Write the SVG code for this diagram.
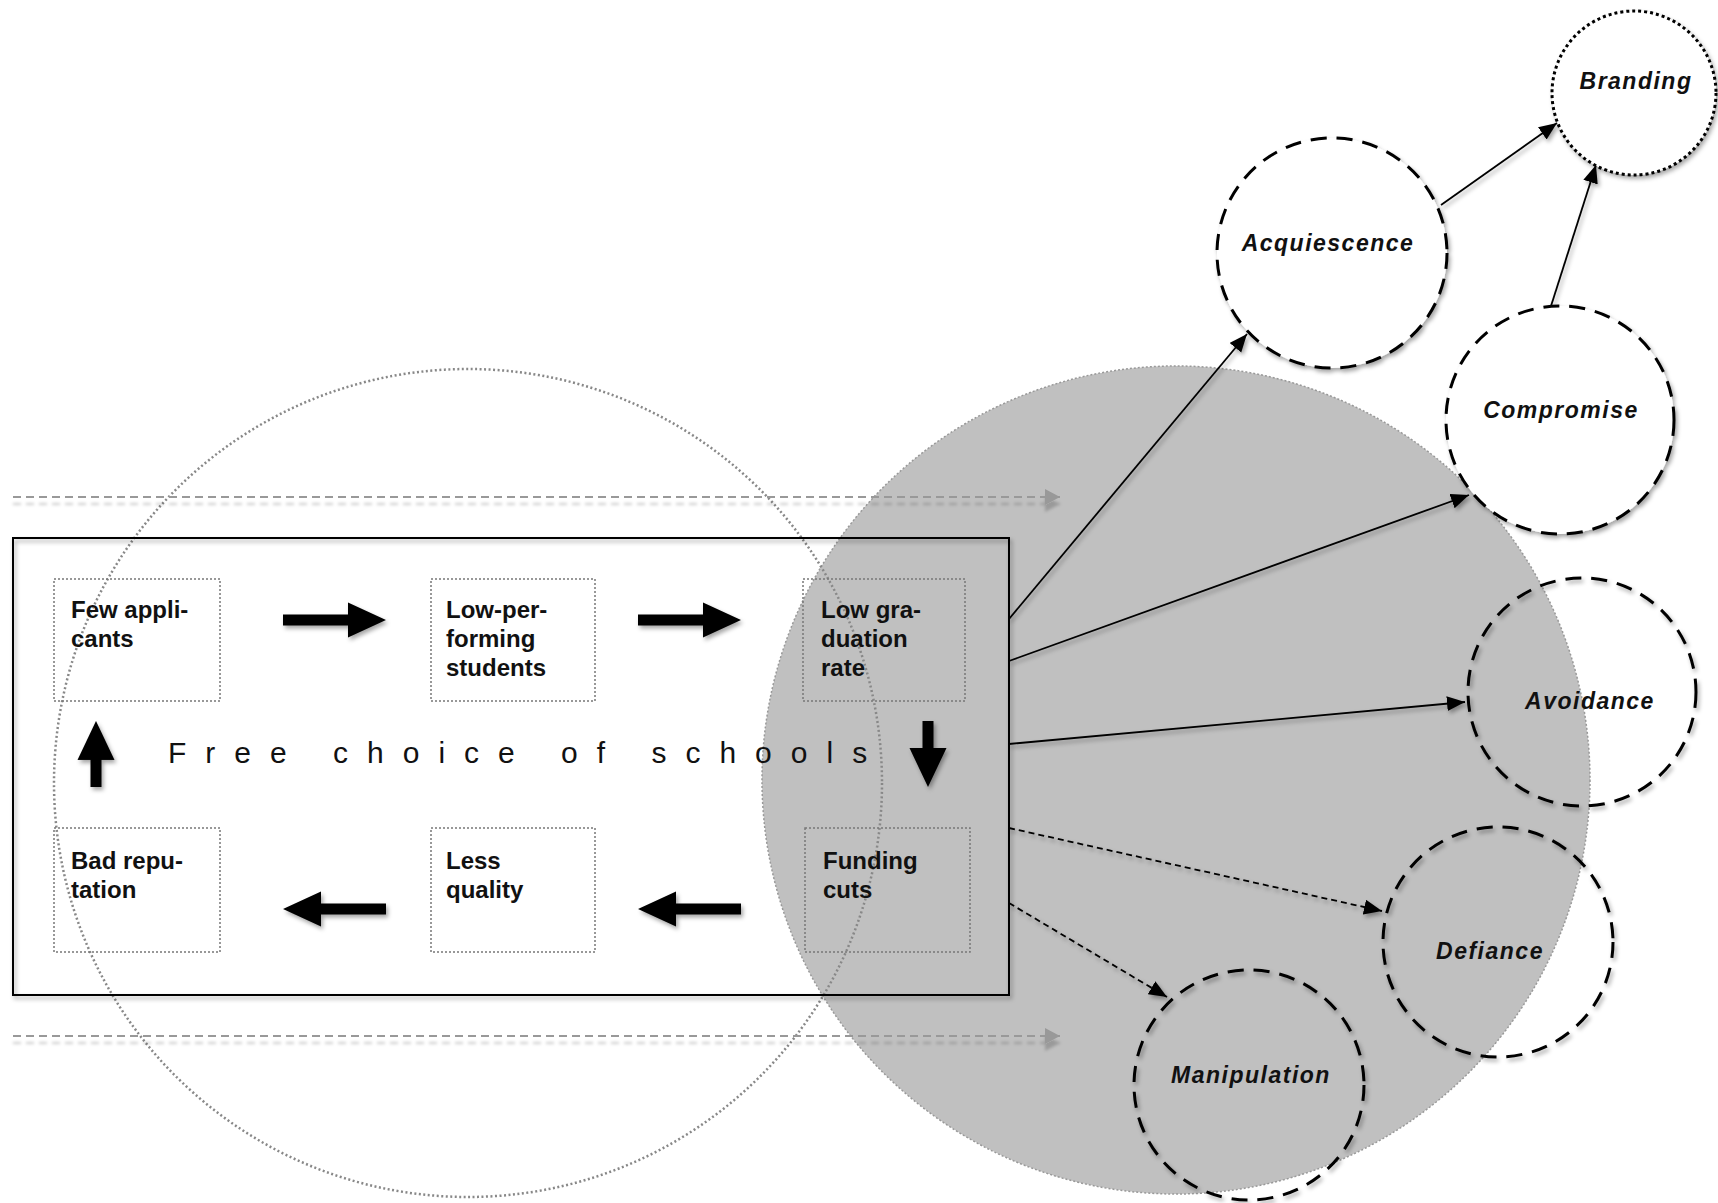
<svg xmlns="http://www.w3.org/2000/svg" width="1718" height="1203" viewBox="0 0 1718 1203">
<style>
.box{fill:none;stroke:#777;stroke-width:1.5;stroke-dasharray:2 2}
.lbl{font-family:"Liberation Sans",Arial,sans-serif;font-weight:bold;font-size:24px;fill:#111}
.node{font-family:"Liberation Sans",Arial,sans-serif;font-weight:bold;font-style:italic;font-size:23px;letter-spacing:1.5px;fill:#111;text-anchor:middle}
.dc{stroke:#000;stroke-width:3;stroke-dasharray:16 10}
.con{stroke:#000;stroke-width:1.8;fill:none}
.dcon{stroke:#000;stroke-width:1.8;fill:none;stroke-dasharray:6 4}
.hl{stroke:#999;stroke-width:2;stroke-dasharray:8 5;fill:none}
</style>
<defs>
<filter id="sh" filterUnits="userSpaceOnUse" x="0" y="0" width="1718" height="1203"><feDropShadow dx="2" dy="3" stdDeviation="2" flood-color="#000" flood-opacity="0.35"/></filter>
<filter id="sh2" filterUnits="userSpaceOnUse" x="0" y="0" width="1718" height="1203"><feDropShadow dx="0" dy="7" stdDeviation="1.5" flood-color="#000" flood-opacity="0.2"/></filter>
<marker id="ah" markerUnits="userSpaceOnUse" markerWidth="20" markerHeight="16" refX="18" refY="7.5" orient="auto"><path d="M0,0 L18,7.5 L0,15 Z" fill="#000"/></marker>
<marker id="gh" markerUnits="userSpaceOnUse" markerWidth="18" markerHeight="18" refX="15" refY="8" orient="auto"><path d="M0,0 L15,8 L0,16 Z" fill="#999"/></marker>
<path id="rarr" d="M0,-5.5 H65 V-17.5 L103,0 L65,17.5 V5.5 H0 Z" fill="#000"/>
<path id="darr" d="M-5.5,0 H5.5 V27 H18.5 L0,66 L-18.5,27 H-5.5 Z" fill="#000"/>
</defs>

<circle id="grayCircle" cx="1176" cy="780" r="414" fill="#c0c0c0" stroke="#999" stroke-width="1.5" stroke-dasharray="2 2"/>
<circle id="leftCircle" cx="468" cy="783" r="414" fill="none" stroke="#888" stroke-width="2.5" stroke-dasharray="2 2.5"/>

<g id="flowLines" filter="url(#sh2)">
<line class="hl" x1="13" y1="497" x2="1060" y2="497" marker-end="url(#gh)"/>
<line class="hl" x1="13" y1="1036" x2="1060" y2="1036" marker-end="url(#gh)"/>
</g>

<g id="system">
<rect x="13" y="538" width="996" height="457" fill="none" stroke="#000" stroke-width="2" filter="url(#sh)"/>
</g>

<g id="few-applicants"><rect class="box" x="54" y="579" width="166" height="122"/><text class="lbl" x="71" y="618">Few appli-</text><text class="lbl" x="71" y="647">cants</text></g>
<g id="low-performing"><rect class="box" x="431" y="579" width="164" height="122"/><text class="lbl" x="446" y="618">Low-per-</text><text class="lbl" x="446" y="647">forming</text><text class="lbl" x="446" y="676">students</text></g>
<g id="low-graduation"><rect class="box" x="803" y="579" width="162" height="122"/><text class="lbl" x="821" y="618">Low gra-</text><text class="lbl" x="821" y="647">duation</text><text class="lbl" x="821" y="676">rate</text></g>
<g id="bad-reputation"><rect class="box" x="54" y="828" width="166" height="124"/><text class="lbl" x="71" y="869">Bad repu-</text><text class="lbl" x="71" y="898">tation</text></g>
<g id="less-quality"><rect class="box" x="431" y="828" width="164" height="124"/><text class="lbl" x="446" y="869">Less</text><text class="lbl" x="446" y="898">quality</text></g>
<g id="funding-cuts"><rect class="box" x="805" y="828" width="165" height="124"/><text class="lbl" x="823" y="869">Funding</text><text class="lbl" x="823" y="898">cuts</text></g>

<text id="free-choice" x="168" y="763" font-family="'Liberation Sans',Arial,sans-serif" font-size="30" letter-spacing="19" fill="#111">Free choice of schools</text>

<g id="cycleArrows" filter="url(#sh)">
<use href="#rarr" transform="translate(283,620)"/>
<use href="#rarr" transform="translate(638,620)"/>
<use href="#darr" transform="translate(928,721)"/>
<use href="#rarr" transform="translate(741,909) scale(-1,1)"/>
<use href="#rarr" transform="translate(386,909) scale(-1,1)"/>
<use href="#darr" transform="translate(96,787) scale(1,-1)"/>
</g>

<g id="connectors" filter="url(#sh)">
<line class="con" x1="1009" y1="619" x2="1247" y2="334" marker-end="url(#ah)"/>
<line class="con" x1="1009" y1="661" x2="1469" y2="495" marker-end="url(#ah)"/>
<line class="con" x1="1009" y1="744" x2="1465" y2="702" marker-end="url(#ah)"/>
<line class="dcon" x1="1009" y1="828" x2="1382" y2="911" marker-end="url(#ah)"/>
<line class="dcon" x1="1009" y1="903" x2="1167" y2="997" marker-end="url(#ah)"/>
<line class="con" x1="1441" y1="205" x2="1557" y2="123" marker-end="url(#ah)"/>
<line class="con" x1="1551" y1="306" x2="1596" y2="165" marker-end="url(#ah)"/>
</g>

<g id="branding"><circle cx="1634" cy="93" r="82" fill="#fff" stroke="#000" stroke-width="3" stroke-dasharray="3 3" filter="url(#sh)"/><text class="node" x="1636" y="89">Branding</text></g>
<g id="acquiescence"><circle class="dc" cx="1332" cy="253" r="115" fill="#fff" filter="url(#sh)"/><text class="node" x="1328" y="251">Acquiescence</text></g>
<g id="compromise"><circle class="dc" cx="1560" cy="420" r="114" fill="#fff" filter="url(#sh)"/><text class="node" x="1561" y="418">Compromise</text></g>
<g id="avoidance"><circle class="dc" cx="1582" cy="692" r="114" fill="none" filter="url(#sh)"/><text class="node" x="1590" y="709">Avoidance</text></g>
<g id="defiance"><circle class="dc" cx="1498" cy="942" r="115" fill="none" filter="url(#sh)"/><text class="node" x="1490" y="959">Defiance</text></g>
<g id="manipulation"><circle class="dc" cx="1249" cy="1085" r="115" fill="none" filter="url(#sh)"/><text class="node" x="1251" y="1083">Manipulation</text></g>
</svg>
